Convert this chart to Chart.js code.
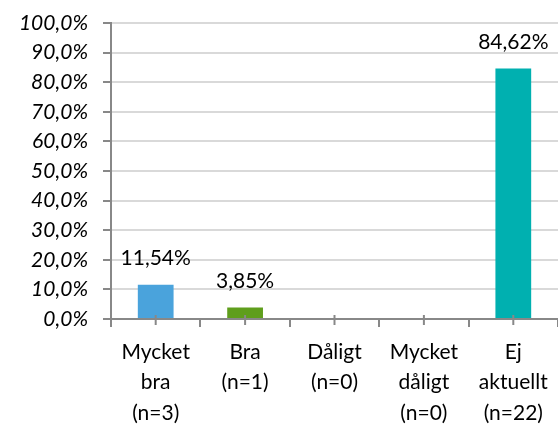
<!DOCTYPE html>
<html>
<head>
<meta charset="utf-8">
<script src="https://cdn.jsdelivr.net/npm/chart.js@4"></script>
<style>
  html, body { margin: 0; padding: 0; background: #fff; }
  #wrap { width: 558px; height: 425px; }
</style>
</head>
<body>
<div id="wrap"><canvas id="myChart"></canvas></div>
<script>
const categories = [
    ['Mycket', 'bra', '(n=3)'],
    ['Bra', '(n=1)'],
    ['Dåligt', '(n=0)'],
    ['Mycket', 'dåligt', '(n=0)'],
    ['Ej', 'aktuellt', '(n=22)']
];
const values = [11.54, 3.85, 0, 0, 84.62];
const barColors = ['#4aa3dc', '#5f9e1c', '#00b0b0', '#00b0b0', '#00b0b0'];
const yTicks = [0, 10, 20, 30, 40, 50, 60, 70, 80, 90, 100];

const fontFamily = 'Lato, "Open Sans", sans-serif';
const fontSize = 21;

function fmt(v, d) {
    return v.toFixed(d).replace('.', ',') + '%';
}

/* value labels above bars + center tick marks */
const extras = {
    id: 'extras',
    afterDatasetsDraw(chart) {
        const c = chart.ctx;
        const meta = chart.getDatasetMeta(0);
        c.save();
        c.font = fontSize + 'px ' + fontFamily;
        c.fillStyle = '#000';
        c.textAlign = 'center';
        c.textBaseline = 'alphabetic';
        meta.data.forEach((bar, i) => {
            if (values[i] > 0) c.fillText(fmt(values[i], 2), bar.x, bar.y - 20);
        });
        const x = chart.scales.x;
        const y0 = chart.scales.y.getPixelForValue(0);
        c.strokeStyle = '#888';
        c.lineWidth = 2;
        categories.forEach((_, i) => {
            const px = x.getPixelForValue(i);
            c.beginPath();
            c.moveTo(px, y0 - 4);
            c.lineTo(px, y0 + 6);
            c.stroke();
        });
        c.restore();
    }
};

new Chart(document.getElementById('myChart'), {
    type: 'bar',
    data: {
        labels: categories,
        datasets: [{
            data: values,
            backgroundColor: barColors,
            barPercentage: 0.4,
            categoryPercentage: 1
        }]
    },
    options: {
        responsive: true,
        maintainAspectRatio: false,
        animation: false,
        layout: { padding: { top: 0, right: 0, bottom: 0, left: 0 } },
        plugins: {
            legend: { display: false },
            tooltip: { enabled: false }
        },
        scales: {
            x: {
                afterFit(scale) { scale.height = 106; },
                grid: {
                    offset: true,
                    drawOnChartArea: false,
                    drawTicks: true,
                    tickLength: 8,
                    tickColor: '#888',
                    lineWidth: 2
                },
                border: { color: '#888', width: 2 },
                ticks: {
                    color: '#000',
                    padding: 10,
                    maxRotation: 0,
                    font: { family: fontFamily, size: fontSize, lineHeight: 1.45 }
                }
            },
            y: {
                min: 0,
                max: 100,
                afterFit(scale) { scale.width = 111; scale.paddingTop = 23; },
                afterBuildTicks(scale) { scale.ticks = yTicks.map(v => ({ value: v })); },
                grid: {
                    color: '#d9d9d9',
                    lineWidth: 2,
                    tickColor: '#888',
                    tickLength: 8
                },
                border: { color: '#888', width: 2 },
                ticks: {
                    color: '#000',
                    padding: 15,
                    callback: v => fmt(v, 1),
                    font: { family: fontFamily, size: fontSize, style: 'italic' }
                }
            }
        }
    },
    plugins: [extras]
});
</script>
</body>
</html>
